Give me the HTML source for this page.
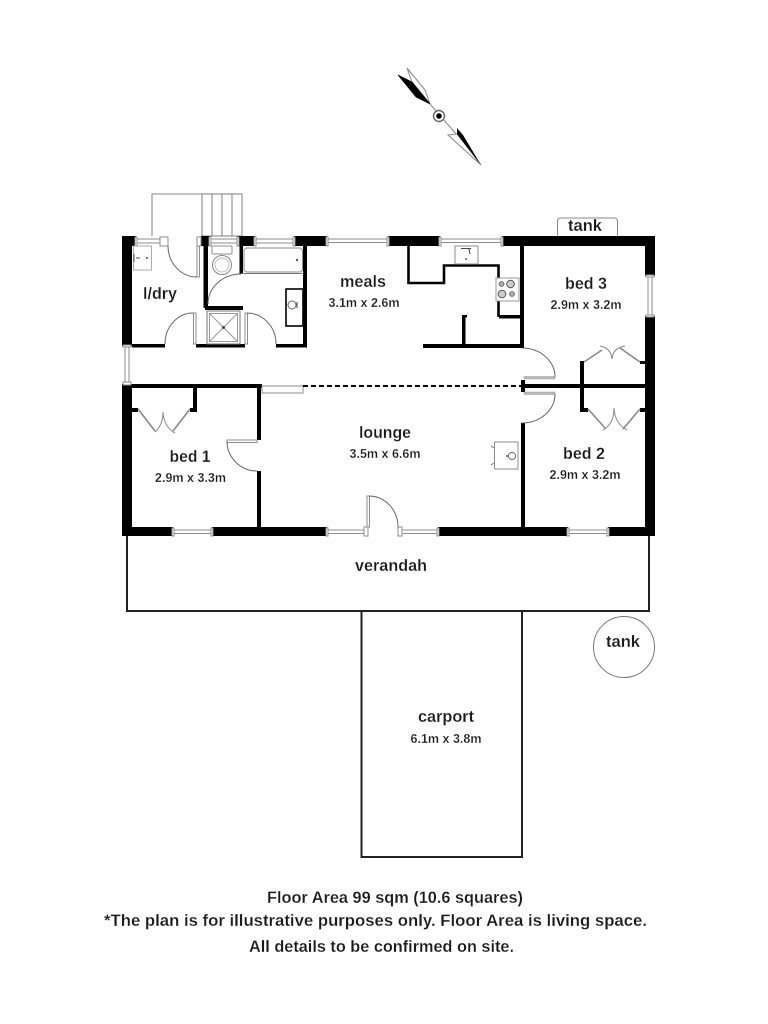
<!DOCTYPE html>
<html><head><meta charset="utf-8"><style>
html,body{margin:0;padding:0;background:#fff}
svg{display:block;filter:blur(.3px)}
text{font-family:"Liberation Sans",Arial,sans-serif;fill:#1a1a1a;font-weight:bold;text-anchor:middle;stroke:#fff;stroke-width:.2;paint-order:normal}
.l{font-size:16.5px}.s{font-size:12.5px}.f{font-size:17px}
.g{fill:#fff;stroke:#8c8c8c;stroke-width:1}
.a{fill:none;stroke:#666;stroke-width:1}
.d{fill:none;stroke:#888;stroke-width:1}
</style></head><body>
<svg width="768" height="1024" viewBox="0 0 768 1024" xmlns="http://www.w3.org/2000/svg">
<rect width="768" height="1024" fill="#fff"/>

<!-- compass -->
<g>
<line x1="430" y1="104" x2="457" y2="135" stroke="#888" stroke-width="1"/>
<polygon points="407,68 425,90 430,104 412,82" fill="#fff" stroke="#888" stroke-width="1"/>
<polygon points="398,75 412,82 430,104 416,97" fill="#000" stroke="#000" stroke-width=".6"/>
<polygon points="448,135 457,134 481,165" fill="#fff" stroke="#888" stroke-width="1"/>
<polygon points="457,128 463,135 481,165 457,134" fill="#000"/>
<circle cx="439" cy="116" r="5.5" fill="#fff" stroke="#666" stroke-width="1.4"/>
<circle cx="439" cy="116" r="2.8" fill="#000"/>
</g>

<!-- stairs and rail -->
<g fill="none" stroke="#8a8a8a" stroke-width="1.1">
<path d="M152 236V194H202"/>
<rect x="202" y="194" width="40" height="42"/>
<path d="M212 194V236M222 194V236M232 194V236"/>
</g>

<!-- tank top -->
<rect x="557.5" y="218" width="60" height="20" rx="3" fill="#fff" stroke="#888" stroke-width="1"/>

<!-- verandah + carport -->
<path d="M127 536V611H649V536" fill="none" stroke="#222" stroke-width="2"/>
<path d="M361.5 611V857H522V611" fill="none" stroke="#222" stroke-width="2"/>
<circle cx="624" cy="647" r="30.5" fill="none" stroke="#777" stroke-width="1"/>

<!-- windows -->
<g>
<rect x="136" y="239" width="24" height="4" class="g"/>
<rect x="210" y="239" width="28" height="4" class="g"/>
<rect x="255" y="239" width="39" height="4" class="g"/>
<rect x="327" y="239" width="61" height="3.5" class="g"/>
<rect x="440" y="239" width="62" height="3.5" class="g"/>
<rect x="648" y="276" width="4" height="40" class="g"/>
<rect x="125" y="346" width="4" height="38" class="g"/>
<rect x="173" y="530" width="39" height="3.5" class="g"/>
<rect x="327" y="530" width="38" height="3.5" class="g"/>
<rect x="402" y="530" width="36" height="3.5" class="g"/>
<rect x="568" y="530" width="40" height="3.5" class="g"/>
</g>

<!-- black walls -->
<g fill="#000">
<rect x="122" y="236" width="14" height="10"/>
<rect x="122" y="236" width="10" height="110"/>
<rect x="201" y="236" width="9" height="10"/>
<rect x="238" y="236" width="17" height="10"/>
<rect x="294" y="236" width="33" height="10"/>
<rect x="388" y="236" width="52" height="10"/>
<rect x="502" y="236" width="153" height="10"/>
<rect x="645" y="236" width="10" height="40"/>
<rect x="645" y="316" width="10" height="220"/>
<rect x="203.5" y="246" width="4.5" height="62"/>
<rect x="205" y="306" width="38" height="4"/>
<rect x="239.5" y="246" width="3.5" height="28"/>
<rect x="303" y="246" width="4" height="101"/>
<rect x="132" y="344" width="33" height="3.5"/>
<rect x="196" y="344" width="49" height="3.5"/>
<rect x="276" y="344" width="31" height="3.5"/>
<rect x="286" y="289" width="17" height="37" fill="#fff" stroke="#000" stroke-width="1.6"/>
<rect x="520" y="246" width="4" height="102"/>
<rect x="423" y="344" width="99" height="4"/>
<rect x="462" y="315" width="3.5" height="30"/>
<rect x="462" y="315" width="5" height="2.5"/>
<rect x="499" y="315" width="22" height="3.5"/>
<path d="M408.5 246V283H444V265.5H498.5V317" fill="none" stroke="#000" stroke-width="2.6"/>
<rect x="122" y="384" width="10" height="152"/>
<rect x="122" y="384" width="140" height="4"/>
<rect x="257" y="388" width="4" height="52"/>
<rect x="257" y="471" width="4" height="56"/>
<rect x="193" y="388" width="4" height="24"/>
<rect x="190" y="408" width="7" height="4"/>
<rect x="132" y="408" width="6" height="4"/>
<rect x="122" y="527" width="51" height="9"/>
<rect x="212" y="527" width="115" height="9"/>
<rect x="438" y="527" width="130" height="9"/>
<rect x="608" y="527" width="47" height="9"/>
<rect x="521" y="384" width="124" height="4"/>
<rect x="521" y="380" width="4" height="12"/>
<rect x="521" y="423" width="4" height="104"/>
<rect x="580" y="361" width="4" height="51"/>
<rect x="580" y="361" width="4" height="3"/>
<rect x="580" y="408" width="8" height="4"/>
<rect x="640" y="361" width="5" height="3"/>
<rect x="640" y="408" width="5" height="4"/>
</g>

<!-- jambs -->
<g class="g" fill="#fff" stroke="#777" stroke-width="1">
<rect x="160" y="237" width="8" height="9"/>
<rect x="197" y="237" width="4" height="9"/>
<rect x="135" y="237" width="2" height="9"/>
<rect x="209" y="237" width="2" height="9"/>
<rect x="237" y="237" width="2" height="9"/>
<rect x="254" y="237" width="2" height="9"/>
<rect x="293" y="237" width="2" height="9"/>
<rect x="326" y="237" width="2" height="9"/>
<rect x="387" y="237" width="2" height="9"/>
<rect x="439" y="237" width="2" height="9"/>
<rect x="501" y="237" width="2" height="9"/>
<rect x="646" y="275" width="8" height="2"/>
<rect x="646" y="315" width="8" height="2"/>
<rect x="123" y="345" width="8" height="2"/>
<rect x="123" y="382" width="8" height="3"/>
<rect x="172" y="528" width="2" height="8"/>
<rect x="211" y="528" width="2" height="8"/>
<rect x="326" y="528" width="2" height="8"/>
<rect x="364" y="527" width="4" height="9"/>
<rect x="398" y="527" width="4" height="9"/>
<rect x="437" y="528" width="2" height="8"/>
<rect x="567" y="528" width="2" height="8"/>
<rect x="607" y="528" width="2" height="8"/>
</g>

<!-- doors -->
<g>
<rect x="197" y="246" width="2.5" height="31" class="g"/>
<path d="M168 246A29 31 0 0 0 197 277" class="a"/>
<rect x="193.5" y="313" width="2.5" height="31" class="g"/>
<path d="M165 344A28 31 0 0 1 193 313" class="a"/>
<rect x="245" y="313" width="2.5" height="31" class="g"/>
<path d="M247 313A29 31 0 0 1 276 344" class="a"/>
<path d="M208 304A33 30 0 0 1 241 274" class="a"/>
<line x1="241" y1="273.5" x2="303" y2="273.5" stroke="#777" stroke-width="1"/>
<rect x="227" y="440" width="30" height="2.5" class="g"/>
<path d="M227 441A30 30 0 0 0 257 471" class="a"/>
<rect x="367" y="496" width="2.5" height="31" class="g"/>
<path d="M369 496A29 31 0 0 1 398 527" class="a"/>
<rect x="524" y="376.5" width="31" height="2.5" fill="#bbb" stroke="#999" stroke-width=".5"/>
<path d="M555 377A33 29 0 0 0 522 348" class="a"/>
<rect x="524" y="392" width="31" height="2.5" fill="#bbb" stroke="#999" stroke-width=".5"/>
<path d="M555 394A33 29 0 0 1 522 423" class="a"/>
</g>

<!-- closet doors -->
<g fill="none" stroke="#8a8a8a" stroke-width="1.6">
<path d="M138 409L155 431M190 409L173 431"/>
<path d="M584 362L602 350M640 362L620 348"/>
<path d="M588 409L605 428M640 409L623 429"/>
</g>
<g class="d">
<path d="M155 432Q163 425 163 412M175 433Q164 427 163 412"/>
<path d="M600 346Q611 348 612 359M625 346Q613 348 612 359"/>
<path d="M603 430Q614 424 614 408M627 430Q615 424 614 408"/>
</g>

<!-- sliding + dashed -->
<rect x="262" y="386" width="41" height="7" class="g"/>
<line x1="303" y1="386" x2="522" y2="386" stroke="#000" stroke-width="2" stroke-dasharray="5 3"/>

<!-- fixtures -->
<g>
<rect x="133.5" y="246" width="18" height="24" fill="#fff" stroke="#aaa" stroke-width="1"/>
<path d="M134 254V262M136 258H140" stroke="#555" stroke-width="1" fill="none"/>
<circle cx="147" cy="258" r="1" fill="#555"/>
<rect x="212" y="246" width="20" height="8" rx="1" class="g"/>
<circle cx="222" cy="265" r="9.5" fill="#fff" stroke="#888" stroke-width="1"/>
<circle cx="222" cy="265" r="7" fill="none" stroke="#bbb" stroke-width="1"/>
<rect x="244" y="248" width="58.5" height="24" rx="3" class="g"/>
<circle cx="297" cy="260" r="1.2" fill="#555"/>
<circle cx="292" cy="305" r="4" fill="#fff" stroke="#666" stroke-width="1"/>
<path d="M297 302V308" stroke="#444" stroke-width="1"/>
<rect x="207" y="311" width="33" height="33" fill="#fff" stroke="#777" stroke-width="1"/>
<rect x="209.5" y="313.5" width="28" height="28" fill="none" stroke="#999" stroke-width="1"/>
<path d="M209.5 313.5L237.5 341.5M237.5 313.5L209.5 341.5" stroke="#999" stroke-width="1"/>
<circle cx="223.5" cy="327.5" r="1.5" fill="#444"/>
<rect x="455" y="246" width="23" height="18" class="g"/>
<path d="M461 248.5H471M469 249L470 254" stroke="#444" stroke-width="1" fill="none"/>
<circle cx="466" cy="259" r="1" fill="#666"/>
<rect x="496" y="278" width="23" height="23" fill="#fff" stroke="#999" stroke-width="1"/>
<circle cx="501.5" cy="284" r="2.5" fill="#aaa" stroke="#666" stroke-width=".8"/>
<circle cx="510.5" cy="284" r="3.8" fill="#ccc" stroke="#555" stroke-width="1"/>
<circle cx="502" cy="294" r="3.8" fill="#ccc" stroke="#555" stroke-width="1"/>
<circle cx="512" cy="294" r="2.5" fill="#aaa" stroke="#666" stroke-width=".8"/>
<rect x="494.5" y="442" width="23.5" height="27" class="g"/>
<circle cx="512" cy="456" r="3.6" fill="#fff" stroke="#666" stroke-width="1"/>
<circle cx="507" cy="456" r="1" fill="#666"/>
<path d="M491 446L494 448M491 465L494 463" stroke="#777" stroke-width="1"/>
</g>

<!-- labels -->
<text x="585" y="231" class="l" textLength="34" lengthAdjust="spacingAndGlyphs">tank</text>
<text x="160" y="299" class="l" textLength="34" lengthAdjust="spacingAndGlyphs">l/dry</text>
<text x="363" y="287" class="l" textLength="46" lengthAdjust="spacingAndGlyphs">meals</text>
<text x="364" y="307" class="s" textLength="71" lengthAdjust="spacingAndGlyphs">3.1m x 2.6m</text>
<text x="586" y="289" class="l" textLength="42" lengthAdjust="spacingAndGlyphs">bed 3</text>
<text x="586" y="309" class="s" textLength="71" lengthAdjust="spacingAndGlyphs">2.9m x 3.2m</text>
<text x="190" y="462" class="l" textLength="41" lengthAdjust="spacingAndGlyphs">bed 1</text>
<text x="190.5" y="482" class="s" textLength="71" lengthAdjust="spacingAndGlyphs">2.9m x 3.3m</text>
<text x="385" y="438" class="l" textLength="52" lengthAdjust="spacingAndGlyphs">lounge</text>
<text x="385" y="458" class="s" textLength="71" lengthAdjust="spacingAndGlyphs">3.5m x 6.6m</text>
<text x="584" y="459" class="l" textLength="42" lengthAdjust="spacingAndGlyphs">bed 2</text>
<text x="585" y="479" class="s" textLength="71" lengthAdjust="spacingAndGlyphs">2.9m x 3.2m</text>
<text x="391" y="571" class="l" textLength="72" lengthAdjust="spacingAndGlyphs">verandah</text>
<text x="623" y="647" class="l" textLength="34" lengthAdjust="spacingAndGlyphs">tank</text>
<text x="446" y="722" class="l" textLength="56" lengthAdjust="spacingAndGlyphs">carport</text>
<text x="446" y="743" class="s" textLength="71" lengthAdjust="spacingAndGlyphs">6.1m x 3.8m</text>
<text x="395" y="903" class="f" textLength="256" lengthAdjust="spacingAndGlyphs">Floor Area 99 sqm (10.6 squares)</text>
<text x="375.5" y="926" class="f" textLength="543" lengthAdjust="spacingAndGlyphs">*The plan is for illustrative purposes only. Floor Area is living space.</text>
<text x="381.5" y="952" class="f" textLength="265" lengthAdjust="spacingAndGlyphs">All details to be confirmed on site.</text>
</svg>
</body></html>
